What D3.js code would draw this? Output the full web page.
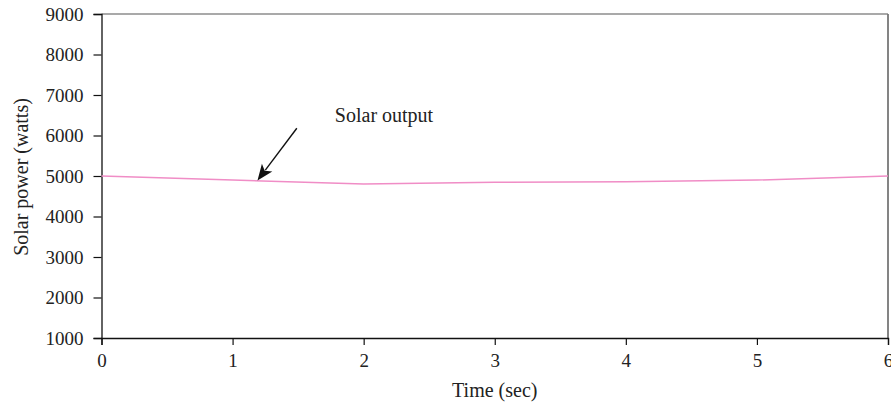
<!DOCTYPE html>
<html><head><meta charset="utf-8">
<script src="https://cdn.jsdelivr.net/npm/d3@7"></script>
<style>body{margin:0;background:#fff}svg{display:block}text{font-family:"Liberation Serif","DejaVu Serif",serif;fill:#222}</style>
</head><body>
<svg id="c" width="891" height="406"></svg>
<script>
const times = [0, 1, 2, 3, 4, 5, 6];
const solarPower = [5000, 4900, 4800, 4845, 4860, 4900, 5000];
const xTicks = [0, 1, 2, 3, 4, 5, 6];
const yTicks = [1000, 2000, 3000, 4000, 5000, 6000, 7000, 8000, 9000];
const annotationLabel = "Solar output";
const arrowTail = [1.49, 6180];
const arrowTip = [1.19, 4890];
const labelPos = [1.78, 6340];

const svg = d3.select("#c");
const m = {l: 101.5, r: 888, t: 14, b: 338};
const x = d3.scaleLinear().domain([0, 6]).range([m.l, m.r]);
const y = d3.scaleLinear().domain([1000, 9000]).range([m.b, m.t]);

svg.append("line").attr("x1", m.l).attr("x2", m.r).attr("y1", m.t).attr("y2", m.t)
  .attr("stroke", "#555").attr("stroke-width", 1.2);
svg.append("line").attr("x1", m.r).attr("x2", m.r).attr("y1", m.t).attr("y2", m.b)
  .attr("stroke", "#777").attr("stroke-width", 1.8);

const tfs = 19, fs = 20;
const xa = svg.append("g").attr("transform", `translate(0,${m.b})`)
  .call(d3.axisBottom(x).tickValues(xTicks).tickFormat(d3.format("d")).tickSize(7).tickPadding(9));
const ya = svg.append("g").attr("transform", `translate(${m.l},0)`)
  .call(d3.axisLeft(y).tickValues(yTicks).tickFormat(d3.format("d")).tickSize(8).tickPadding(10));
[xa, ya].forEach(g => {
  g.attr("font-size", null).attr("font-family", null);
  g.select(".domain").attr("stroke", "#111").attr("stroke-width", 1.3);
  g.selectAll(".tick line").attr("stroke", "#111").attr("stroke-width", 1.2);
  g.selectAll(".tick text").attr("style", `font-size:${tfs}px;font-family:'Liberation Serif',serif;fill:#222`);
});

const pts = times.map((t, i) => [t, solarPower[i]]);
svg.append("path").datum(pts)
  .attr("fill", "none").attr("stroke", "#f08dc6").attr("stroke-width", 1.5)
  .attr("d", d3.line().x(d => x(d[0])).y(d => y(d[1])));

svg.append("text").attr("x", (m.l + m.r) / 2).attr("y", 397).attr("text-anchor", "middle")
  .style("font-size", fs + "px").text("Time (sec)");
svg.append("text").attr("transform", `translate(28,177) rotate(-90)`)
  .attr("text-anchor", "middle").style("font-size", fs + "px").text("Solar power (watts)");

const x1 = x(arrowTail[0]), y1 = y(arrowTail[1]), x2 = x(arrowTip[0]), y2 = y(arrowTip[1]);
const ang = Math.atan2(y2 - y1, x2 - x1);
const hl = 16, hw = 6.5;
const bx = x2 - hl * Math.cos(ang), by = y2 - hl * Math.sin(ang);
svg.append("line").attr("x1", x1).attr("y1", y1).attr("x2", bx + 3 * Math.cos(ang)).attr("y2", by + 3 * Math.sin(ang))
  .attr("stroke", "#111").attr("stroke-width", 1.4);
const nx = -Math.sin(ang), ny = Math.cos(ang);
const notch = 4;
svg.append("path").attr("fill", "#111")
  .attr("d", `M${x2},${y2}L${bx + hw * nx},${by + hw * ny}L${bx + notch * Math.cos(ang)},${by + notch * Math.sin(ang)}L${bx - hw * nx},${by - hw * ny}Z`);
svg.append("text").attr("x", x(labelPos[0])).attr("y", y(labelPos[1]))
  .style("font-size", fs + "px").text(annotationLabel);
</script>
</body></html>
